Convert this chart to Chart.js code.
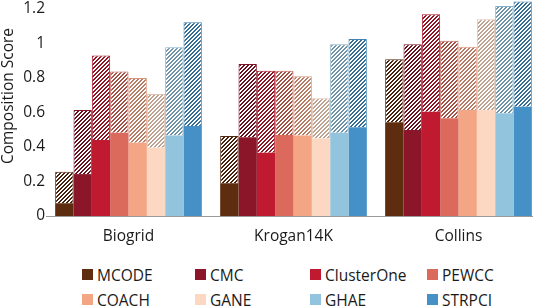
<!DOCTYPE html>
<html>
<head>
<meta charset="utf-8">
<script src="https://cdn.jsdelivr.net/npm/chart.js@4.4.1/dist/chart.umd.min.js"></script>
<style>
    body { margin: 0; background: #fff; overflow: hidden; font-family: "Open Sans", sans-serif; }
    #wrap { position: absolute; left: 0; top: 0; width: 541px; height: 245px; }
    #legend { position: absolute; left: 82px; top: 262px; display: grid; grid-template-columns: 113px 115px 117px auto; grid-auto-rows: 25px; font-size: 15.5px; color: #1a1a1a; }
    .item { display: flex; align-items: center; white-space: nowrap; }
    .box { width: 11px; height: 11px; margin-right: 4px; }
</style>
</head>
<body>
<div id="wrap"><canvas id="chart"></canvas></div>
<div id="legend"></div>
<script>
// Datasets (x axis groups) and methods (bars in each group)
const categories = ['Biogrid', 'Krogan14K', 'Collins'];
const methods = ['MCODE', 'CMC', 'ClusterOne', 'PEWCC', 'COACH', 'GANE', 'GHAE', 'STRPCI'];
const colors = ['#5e2c0e', '#8c1629', '#c01a30', '#dc6a5c', '#f4a584', '#fcd8c3', '#93c4dd', '#4591c7'];

// Solid part (lower score) and hatched top (total score), one value per method
const biogridSolid = [0.074, 0.243, 0.44, 0.483, 0.425, 0.396, 0.466, 0.522];
const biogridTotal = [0.257, 0.614, 0.93, 0.837, 0.80, 0.707, 0.978, 1.123];
const kroganSolid = [0.19, 0.456, 0.367, 0.47, 0.466, 0.45, 0.483, 0.514];
const kroganTotal = [0.464, 0.881, 0.842, 0.842, 0.81, 0.682, 0.995, 1.026];
const collinsSolid = [0.543, 0.499, 0.605, 0.566, 0.614, 0.614, 0.595, 0.634];
const collinsTotal = [0.908, 0.995, 1.169, 1.016, 0.981, 1.14, 1.217, 1.243];

const yTicks = [0, 0.2, 0.4, 0.6, 0.8, 1, 1.2];

const solids = [biogridSolid, kroganSolid, collinsSolid];
const totals = [biogridTotal, kroganTotal, collinsTotal];

// Darker shade of a hex colour, used for the hatch lines
function darken(hex, f) {
    const n = parseInt(hex.slice(1), 16);
    const r = Math.round((n >> 16) * f), g = Math.round(((n >> 8) & 255) * f), b = Math.round((n & 255) * f);
    return `rgb(${r}, ${g}, ${b})`;
}

// Sharp diagonal hatch pattern (pixel stripes, "/" direction)
function hatch(color) {
    const size = 4;
    const c = document.createElement('canvas');
    c.width = size;
    c.height = size;
    const ctx = c.getContext('2d');
    ctx.fillStyle = '#fff';
    ctx.fillRect(0, 0, size, size);
    ctx.fillStyle = color;
    for (let x = 0; x < size; x++) {
        for (let y = 0; y < size; y++) {
            if ((x + y) % size < 2) ctx.fillRect(x, y, 1, 1);
        }
    }
    return ctx.createPattern(c, 'repeat');
}

var datasets = [];
methods.forEach(function (name, i) {
    datasets.push({
        label: name,
        stack: name,
        data: solids.map(s => s[i]),
        backgroundColor: colors[i],
        borderWidth: 0
    });
    datasets.push({
        label: name + ' total',
        stack: name,
        data: totals.map((t, k) => t[i] - solids[k][i]),
        backgroundColor: hatch(darken(colors[i], 0.75)),
        borderColor: darken(colors[i], 0.9),
        borderWidth: 1,
        borderSkipped: 'start'
    });
});

// Rotated y axis title
const yTitle = {
    id: 'yTitle',
    afterDraw(chart) {
        const ctx = chart.ctx;
        ctx.save();
        ctx.translate(9, 96);
        ctx.rotate(-Math.PI / 2);
        ctx.font = '15.5px "Open Sans"';
        ctx.fillStyle = '#1a1a1a';
        ctx.textAlign = 'center';
        ctx.textBaseline = 'middle';
        ctx.fillText('Composition Score', 0, 0);
        ctx.restore();
    }
};

new Chart(document.getElementById('chart').getContext('2d'), {
    type: 'bar',
    data: { labels: categories, datasets: datasets },
    options: {
        responsive: true,
        maintainAspectRatio: false,
        animation: false,
        layout: { padding: 0 },
        datasets: { bar: { categoryPercentage: 8 / 9, barPercentage: 1, clip: false } },
        plugins: { legend: { display: false }, tooltip: { enabled: false } },
        scales: {
            x: {
                stacked: true,
                grid: { display: false, drawTicks: false },
                border: { display: true, color: '#9a9a9a', width: 1 },
                afterFit: function (scale) {
                    scale.height = 29;
                },
                ticks: { font: { family: 'Open Sans', size: 15.5 }, color: '#1a1a1a', padding: 11 }
            },
            y: {
                stacked: true,
                min: 0,
                max: 1.2,
                grid: { display: false, drawTicks: false },
                border: { display: false },
                afterBuildTicks: function (scale) {
                    scale.ticks = yTicks.map(v => ({ value: v }));
                },
                afterFit: function (scale) {
                    scale.width = 46;
                    scale.paddingTop = 9;
                    scale.paddingBottom = 0;
                },
                ticks: {
                    font: { family: 'Open Sans', size: 15.5 },
                    color: '#1a1a1a',
                    padding: 1,
                    callback: v => String(v)
                }
            }
        }
    },
    plugins: [yTitle]
});

// Legend in two rows of four
var legend = document.getElementById('legend');
methods.forEach(function (name, i) {
    var item = document.createElement('div');
    item.className = 'item';
    var box = document.createElement('span');
    box.className = 'box';
    box.style.background = colors[i];
    item.appendChild(box);
    item.appendChild(document.createTextNode(name));
    legend.appendChild(item);
});
</script>
</body>
</html>
